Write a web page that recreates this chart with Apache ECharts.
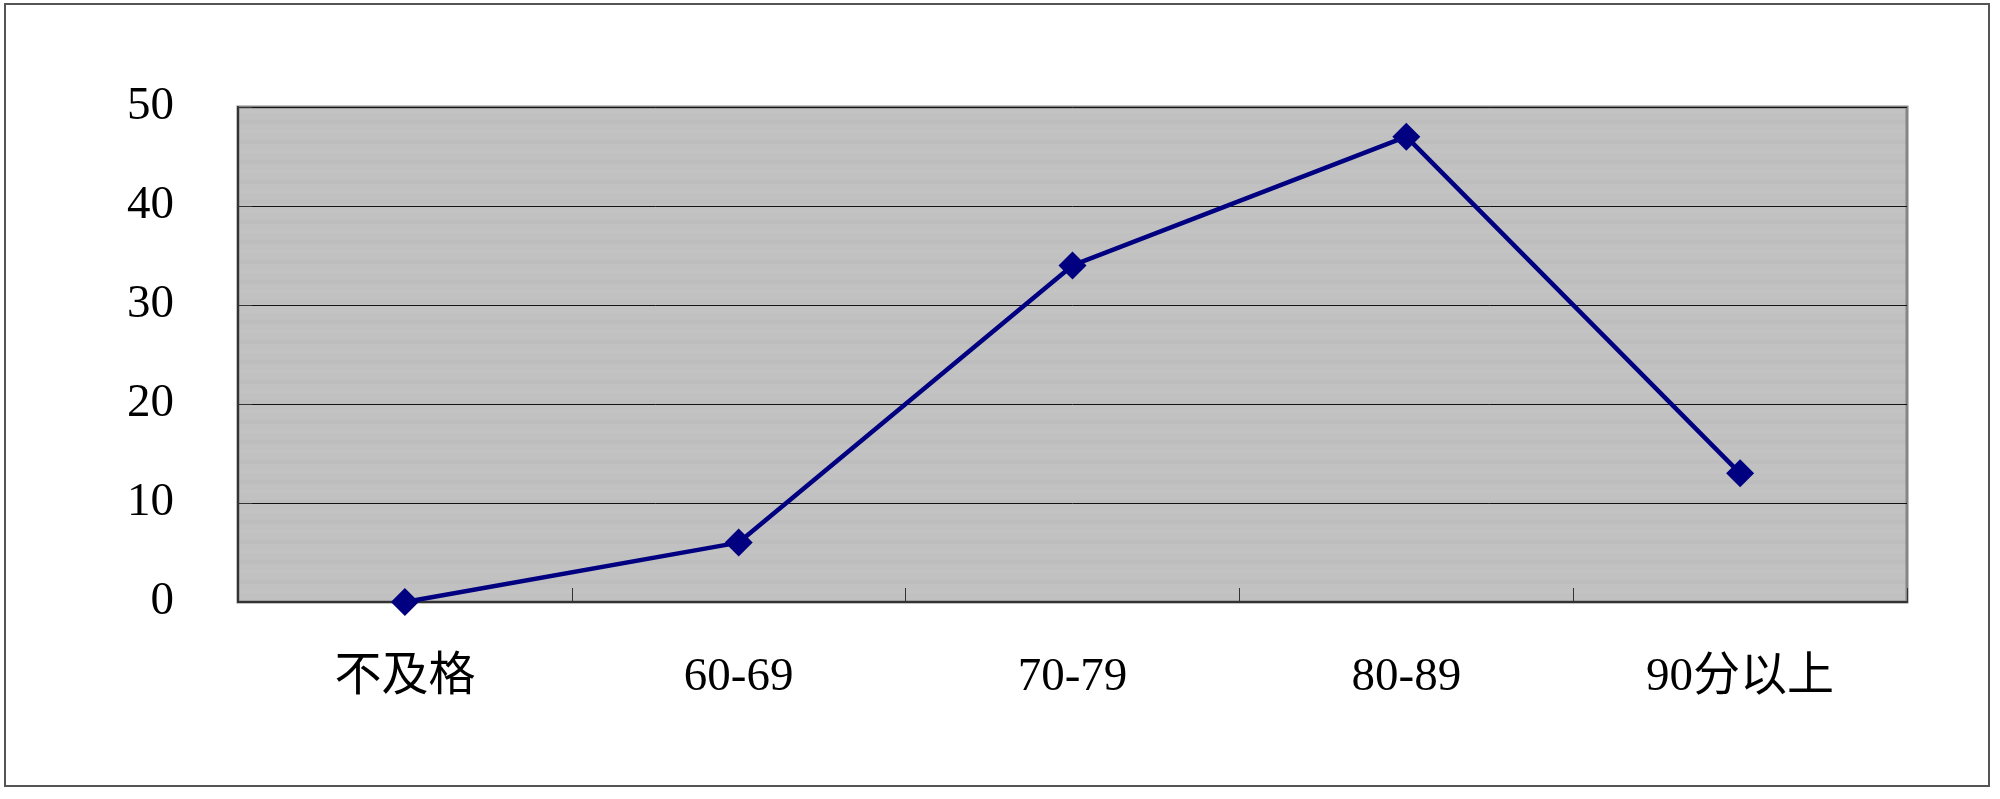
<!DOCTYPE html>
<html>
<head>
<meta charset="utf-8">
<script src="https://cdn.jsdelivr.net/npm/echarts@6/dist/echarts.min.js"></script>
<style>
html,body{margin:0;padding:0;background:#fff;}
#chart{width:2000px;height:799px;}
</style>
</head>
<body>
<div id="chart"></div>
<script>
const categories = ['不及格', '60-69', '70-79', '80-89', '90分以上'];
const values = [0, 6, 34, 47, 13];
const yTicks = [0, 10, 20, 30, 40, 50];

const fontFam = '"Liberation Serif", "DejaVu Serif", "Noto Sans CJK SC", serif';

// subtle horizontal stripe texture for the plot background
const pc = document.createElement('canvas');
pc.width = 8; pc.height = 20;
const pctx = pc.getContext('2d');
pctx.fillStyle = '#c1c1c1'; pctx.fillRect(0, 0, 8, 20);
pctx.fillStyle = '#bdbdbd'; pctx.fillRect(0, 0, 8, 4);
pctx.fillStyle = '#c3c3c3'; pctx.fillRect(0, 10, 8, 3);

const chart = echarts.init(document.getElementById('chart'));
chart.setOption({
  backgroundColor: '#ffffff',
  animation: false,
  graphic: [{
    type: 'rect',
    shape: {x: 5, y: 4, width: 1984, height: 782},
    style: {fill: 'none', stroke: '#555', lineWidth: 2},
    z: -1
  }],
  grid: {
    left: 238, right: 93, top: 107, bottom: 197,
    show: true,
    backgroundColor: {image: pc, repeat: 'repeat'},
    borderColor: '#858585',
    borderWidth: 3
  },
  xAxis: {
    type: 'category',
    data: categories,
    boundaryGap: true,
    axisLine: {show: true, lineStyle: {color: '#333', width: 2}},
    axisTick: {show: true, inside: true, length: 14, lineStyle: {color: '#333', width: 1}},
    axisLabel: {margin: 52, fontSize: 47, color: '#000', fontFamily: fontFam},
    splitLine: {show: false}
  },
  yAxis: {
    type: 'value',
    min: yTicks[0],
    max: yTicks[yTicks.length - 1],
    interval: 10,
    axisLine: {show: true, lineStyle: {color: '#333', width: 2}},
    axisTick: {show: true, inside: true, length: 14, lineStyle: {color: '#333', width: 1}},
    axisLabel: {margin: 64, fontSize: 47, color: '#000', fontFamily: fontFam},
    splitLine: {show: true, lineStyle: {color: '#111', width: 1}}
  },
  series: [{
    type: 'line',
    data: values,
    symbol: 'diamond',
    symbolSize: 28,
    lineStyle: {color: '#000080', width: 4.5},
    itemStyle: {color: '#000080'},
    z: 5
  }]
});
</script>
</body>
</html>
